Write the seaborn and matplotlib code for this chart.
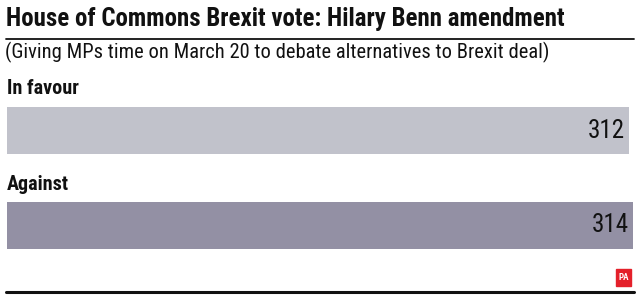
import matplotlib
matplotlib.use("Agg")
import matplotlib.pyplot as plt
import seaborn as sns
import pandas as pd
from matplotlib import font_manager as fm

categories = ["In favour", "Against"]
values = [312, 314]
colors = ["#bfc1cd", "#918da7"]
title = "House of Commons Brexit vote: Hilary Benn amendment"
subtitle = "(Giving MPs time on March 20 to debate alternatives to Brexit deal)"

names = {f.name for f in fm.fontManager.ttflist}
fam = [n for n in ["Liberation Sans Narrow", "Roboto Condensed", "Open Sans Condensed", "Roboto", "DejaVu Sans"] if n in names]

sns.set_theme(style="white")
plt.rcParams['font.family'] = fam

W, H = 640, 299
fig = plt.figure(figsize=(W / 100, H / 100), dpi=100)

def fx(x): return x / W
def fy(y): return 1 - y / H

# bar axes: pixels x 6.5..633, y 107..249
ax = fig.add_axes([fx(6.5), fy(249), fx(633) - fx(6.5), (249 - 107) / H])
df = pd.DataFrame({"cat": categories, "val": values})
bh = 47 / 95
sns.barplot(data=df, x="val", y="cat", hue="cat", palette=colors, orient="h",
            width=bh, ax=ax, legend=False, edgecolor="none")
ax.set_xlim(0, 314)
ax.set_ylim(1 + bh / 2, -bh / 2)
ax.axis("off")

for i, (c, v) in enumerate(zip(categories, values)):
    ax.text(v - 2, i, str(v), ha="right", va="center", fontsize=18, color="#111111")

fig.text(fx(6), fy(19), title, fontsize=17.9, fontweight="bold", ha="left", va="center", color="#111111")
fig.add_artist(plt.Line2D([fx(6), fx(634)], [fy(39), fy(39)], color="#111111", lw=1.3))
fig.text(fx(5), fy(52), subtitle, fontsize=14.8, ha="left", va="center", color="#111111")
fig.text(fx(7), fy(89), categories[0], fontsize=14.5, fontweight="bold", ha="left", va="center", color="#111111")
fig.text(fx(7), fy(185), categories[1], fontsize=14.5, fontweight="bold", ha="left", va="center", color="#111111")

# PA logo
fig.add_artist(plt.Rectangle((fx(616), fy(286)), fx(15), 17 / H, color="#e4202a"))
fig.text(fx(623.5), fy(277.5), "PA", fontsize=6.5, fontweight="bold", color="white", ha="center", va="center")

fig.add_artist(plt.Line2D([fx(6), fx(634)], [fy(291.5), fy(291.5)], color="#111111", lw=2.2))

fig.savefig("out.png", dpi=100)
